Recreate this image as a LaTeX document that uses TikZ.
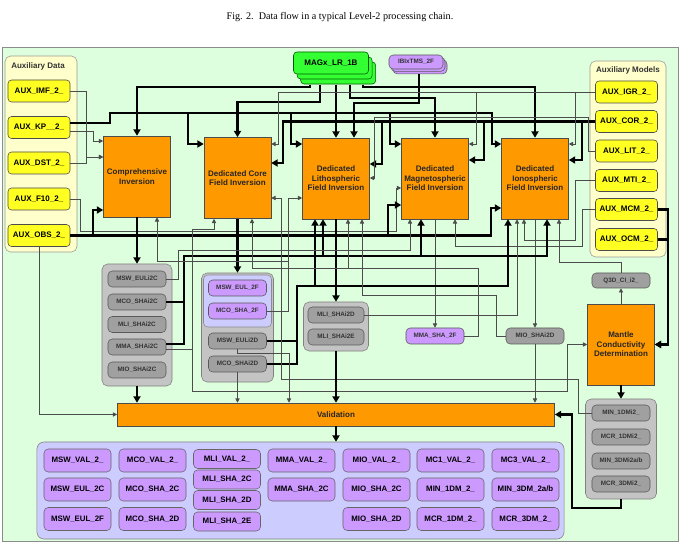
\documentclass[tikz,border=0pt]{standalone}
\usepackage{fontspec}
\setsansfont{Liberation Sans}
\newfontfamily\capfont{Liberation Serif}
\usetikzlibrary{arrows.meta,shadows}
\definecolor{bggreen}{HTML}{DDFFDD}
\definecolor{invorange}{HTML}{FF9900}
\definecolor{auxyellow}{HTML}{FFFF22}
\definecolor{auxpanel}{HTML}{FFFFCC}
\definecolor{prodpurple}{HTML}{CC99FF}
\definecolor{outpanel}{HTML}{CCCCFF}
\definecolor{grpgray}{HTML}{C4C4C4}
\definecolor{boxgray}{HTML}{A0A0A0}
\definecolor{lgreen}{HTML}{33FF33}
\begin{document}
\begin{tikzpicture}[x=0.025cm, y=-0.025cm,
    font=\sffamily\bfseries\fontsize{5.7}{6.8}\selectfont,
    inv/.style={draw=black!70, fill=invorange, text=black!85, minimum width=1.675cm,
                minimum height=2.025cm, align=center, inner sep=1pt},
    aux/.style={draw=black!70, fill=auxyellow, rounded corners=2.5pt, minimum width=1.55cm,
                minimum height=0.55cm, inner sep=1pt},
    auxgrp/.style={draw=black!40, fill=auxpanel, rounded corners=4pt, inner sep=0pt},
    grptitle/.style={text=black!80, inner sep=1pt},
    grp/.style={draw=black!50, fill=grpgray, rounded corners=4pt, inner sep=0pt},
    ibox/.style={draw=black!65, fill=boxgray, rounded corners=3pt, minimum width=1.45cm,
                 minimum height=0.4cm, inner sep=1pt, text=black!80,
                 font=\sffamily\bfseries\fontsize{4.5}{5}\selectfont},
    pbox/.style={ibox, fill=prodpurple},
    obox/.style={draw=black!60, fill=prodpurple, rounded corners=3pt, minimum width=1.675cm,
                 minimum height=0.575cm, inner sep=1pt, font=\sffamily\bfseries\fontsize{5.6}{6}\selectfont},
    flow/.style={draw=black!70, line width=0.6pt, -{Triangle[length=3pt,width=3pt]}},
    mainflow/.style={draw=black, line width=1.9pt, -{Triangle[length=4.5pt,width=5pt]}},
  ]
  \useasboundingbox (0,0) rectangle (680,544);
  % caption
  \node[font=\capfont\mdseries\fontsize{7.2}{8}\selectfont] (caption) at (340,17)
    {Fig. 2.\ \ Data flow in a typical Level-2 processing chain.};
  % frame and panels
  \node[draw=black!45, fill=bggreen, minimum width=16.9cm, minimum height=12.35cm, inner sep=0pt] (frame) at (340,294) {};
  \node[auxgrp, minimum width=1.8cm, minimum height=4.9cm] (auxdata) at (41,154) {};
  \node[grptitle] (auxdatat) at (38,66) {Auxiliary Data};
  \node[auxgrp, minimum width=1.9cm, minimum height=4.9cm] (auxmod) at (628,159) {};
  \node[grptitle] (auxmodt) at (628,70) {Auxiliary Models};
  % auxiliary data
  \node[aux] (imf) at (39,91) {AUX\_IMF\_2\_};
  \node[aux] (kp)  at (39,127.5) {AUX\_KP\_\_2\_};
  \node[aux] (dst) at (39,163) {AUX\_DST\_2\_};
  \node[aux] (f10) at (39,199) {AUX\_F10\_2\_};
  \node[aux] (obs) at (39,235.5) {AUX\_OBS\_2\_};
  % auxiliary models
  \node[aux] (igr) at (626.5,92) {AUX\_IGR\_2\_};
  \node[aux] (cor) at (626.5,121.5) {AUX\_COR\_2\_};
  \node[aux] (lit) at (626.5,151) {AUX\_LIT\_2\_};
  \node[aux] (mti) at (626.5,180.5) {AUX\_MTI\_2\_};
  \node[aux] (mcm) at (626.5,209.5) {AUX\_MCM\_2\_};
  \node[aux] (ocm) at (626.5,239.5) {AUX\_OCM\_2\_};
  % level-1b inputs
  \node[aux, fill=lgreen, draw=green!35!black, minimum width=1.875cm,
        double copy shadow={shadow xshift=0.09cm, shadow yshift=-0.125cm}] (magx) at (331,63) {MAGx\_LR\_1B};
  \node[pbox, minimum width=1.35cm, minimum height=0.35cm,
        double copy shadow={shadow xshift=0.05cm, shadow yshift=-0.06cm}] (ibi) at (416,62) {IBIxTMS\_2F};
  \coordinate (magxfoot) at ([yshift=-0.26cm]magx.south);
  \coordinate (ibifoot) at ([yshift=-0.12cm]ibi.south);
  % inversions
  \node[inv] (comp)    at (137,176.5) {Comprehensive\\Inversion};
  \node[inv] (core)    at (237.5,178) {Dedicated Core\\Field Inversion};
  \node[inv] (litho)   at (336,178.5) {Dedicated\\Lithospheric\\Field Inversion};
  \node[inv] (magneto) at (435,178.5) {Dedicated\\Magnetospheric\\Field Inversion};
  \node[inv] (iono)    at (535,178.5) {Dedicated\\Ionospheric\\Field Inversion};
  \node[inv] (mantle)  at (621,344.5) {Mantle\\Conductivity\\Determination};
  % intermediate products
  \node[grp, minimum width=1.75cm, minimum height=3.05cm] (g1) at (137,325) {};
  \node[ibox] (msweulic) at (137,279) {MSW\_EULi2C};
  \node[ibox] (mcoshaic) at (137,302) {MCO\_SHAi2C};
  \node[ibox] (mlishaic) at (137,324.5) {MLI\_SHAi2C};
  \node[ibox] (mmashaic) at (137,347) {MMA\_SHAi2C};
  \node[ibox] (mioshaic) at (137,370) {MIO\_SHAi2C};
  \node[grp, minimum width=1.8cm, minimum height=2.725cm] (g2) at (237.5,327.5) {};
  \node[draw=black!45, fill=outpanel, rounded corners=3pt, minimum width=1.7cm,
        minimum height=1.3cm, inner sep=0pt] (g2f) at (237.5,301) {};
  \node[pbox] (msweulf)  at (237.5,288) {MSW\_EUL\_2F};
  \node[pbox] (mcoshaf)  at (237.5,311) {MCO\_SHA\_2F};
  \node[ibox] (msweulid) at (237.5,341) {MSW\_EULi2D};
  \node[ibox] (mcoshaid) at (237.5,364) {MCO\_SHAi2D};
  \node[grp, minimum width=1.625cm, minimum height=1.225cm] (g3) at (336,326.5) {};
  \node[ibox, minimum width=1.4cm] (mlishad) at (336,315) {MLI\_SHAi2D};
  \node[ibox, minimum width=1.4cm] (mlishae) at (336,337) {MLI\_SHAi2E};
  \node[pbox] (mmashaf) at (435,336) {MMA\_SHA\_2F};
  \node[ibox] (mioshad) at (535,336) {MIO\_SHAi2D};
  \node[ibox, minimum height=0.375cm] (q3d) at (621,280.5) {Q3D\_CI\_i2\_};
  \node[grp, minimum width=1.775cm, minimum height=2.5cm] (g4) at (621,449) {};
  \node[ibox] (minid)   at (621,413) {MIN\_1DMi2\_};
  \node[ibox] (mcrid)   at (621,437) {MCR\_1DMi2\_};
  \node[ibox] (minidab) at (621,461) {MIN\_3DMi2a/b};
  \node[ibox] (mcridd)  at (621,484) {MCR\_3DMi2\_};
  % validation and final products
  \node[inv, minimum width=10.925cm, minimum height=0.575cm] (valid) at (336,414.5) {Validation};
  \node[draw=black!50, fill=outpanel, rounded corners=5pt, minimum width=13.175cm,
        minimum height=2.425cm, inner sep=0pt] (outp) at (300.5,490.5) {};
  \node[obox] (swval)  at (77.5,460.5) {MSW\_VAL\_2\_};
  \node[obox] (sweulc) at (77.5,489.5) {MSW\_EUL\_2C};
  \node[obox] (sweulf) at (77.5,519) {MSW\_EUL\_2F};
  \node[obox] (coval)  at (152.5,460.5) {MCO\_VAL\_2\_};
  \node[obox] (coshac) at (152.5,489.5) {MCO\_SHA\_2C};
  \node[obox] (coshad) at (152.5,519) {MCO\_SHA\_2D};
  \node[obox, minimum height=0.475cm] (lival)  at (227,459) {MLI\_VAL\_2\_};
  \node[obox, minimum height=0.475cm] (lishac) at (227,479.5) {MLI\_SHA\_2C};
  \node[obox, minimum height=0.475cm] (lishad) at (227,500) {MLI\_SHA\_2D};
  \node[obox, minimum height=0.475cm] (lishae) at (227,521.5) {MLI\_SHA\_2E};
  \node[obox] (maval)  at (301.5,460.5) {MMA\_VAL\_2\_};
  \node[obox] (mashac) at (301.5,489.5) {MMA\_SHA\_2C};
  \node[obox] (ioval)  at (376.5,460.5) {MIO\_VAL\_2\_};
  \node[obox] (ioshac) at (376.5,489.5) {MIO\_SHA\_2C};
  \node[obox] (ioshad) at (376.5,519) {MIO\_SHA\_2D};
  \node[obox] (cival)  at (450.5,460.5) {MC1\_VAL\_2\_};
  \node[obox] (inidm)  at (450.5,489.5) {MIN\_1DM\_2\_};
  \node[obox] (crdm)   at (450.5,519) {MCR\_1DM\_2\_};
  \node[obox] (cthval) at (525.5,460.5) {MC3\_VAL\_2\_};
  \node[obox] (inthdm) at (525.5,489.5) {MIN\_3DM\_2a/b};
  \node[obox] (crthdm) at (525.5,519) {MCR\_3DM\_2\_};
  \coordinate (cbus) at (184,256);
  \coordinate (dbus) at (297,286);
  % level-1b data into the inversions
  \draw[mainflow] (magxfoot -| 310,0) |- (137,87) -- (comp.north);
  \draw[mainflow] (magxfoot -| 320,0) |- (237.5,102) -- (core.north);
  \draw[mainflow] (magxfoot -| 336,0) -- (litho.north);
  \draw[mainflow] (magxfoot -| 350,0) |- (435,98) -- (magneto.north);
  \draw[mainflow] (magxfoot -| 363,0) |- (535,87) -- (iono.north);
  \draw[mainflow] (ibifoot -| 419,0) |- (354,103) -- (litho.north -| 354,0);
  % auxiliary data
  \draw[mainflow] (kp.east |- 0,123) -| (110,113) -| (188,144) -- (core.west |- 0,144);
  \draw[mainflow] (kp.east |- 0,123) -| (110,113) -| (291,144) -- (litho.west |- 0,144);
  \draw[mainflow] (kp.east |- 0,123) -| (110,113) -| (390,144) -- (magneto.west |- 0,144);
  \draw[mainflow] (kp.east |- 0,123) -| (110,113) -| (492,144) -- (iono.west |- 0,144);
  \draw[flow] (imf.east) -| (86,157) -- (comp.west |- 0,157);
  \draw[flow] (dst.east) -| (86,157) -- (comp.west |- 0,157);
  \draw[flow] (kp.east |- 0,131) -| (93,141) -- (comp.west |- 0,141);
  \draw[flow] (f10.east) -| (80,231) -| (396,188) -- (magneto.west |- 0,188);
  \draw[mainflow] (obs.east) -| (93,210) -- (comp.west |- 0,210);
  \draw[mainflow] (obs.east) -| (388,205) -- (magneto.west |- 0,205);
  \draw[mainflow] (obs.east) -| (491,208) -- (iono.west |- 0,208);
  \draw[flow] (obs.south) |- (valid.west);
  % auxiliary models
  \draw[mainflow] (cor.west) -| (283,163) -- (core.east |- 0,163);
  \draw[mainflow] (cor.west) -| (382,164) -- (litho.east |- 0,164);
  \draw[mainflow] (cor.west) -| (484,160) -- (magneto.east |- 0,160);
  \draw[mainflow] (cor.west) -| (582,160) -- (iono.east |- 0,160);
  \draw[flow] (igr.west) -| (278,144) -- (core.east |- 0,144);
  \draw[flow] (igr.west) -| (476,144) -- (magneto.east |- 0,144);
  \draw[flow] (igr.west) -| (575,144) -- (iono.east |- 0,144);
  \draw[flow] (lit.west) -| (588,117) -| (374,178) -- (litho.east |- 0,178);
  \draw[flow] (mti.west) -| (575,240) -| (iono.south -| 524,0);
  \draw[flow] (mcm.west) -| (582,246) -| (magneto.south -| 455,0);
  \draw[mainflow] (mcm.east) -| (668,344.5) -- (mantle.east);
  \draw[mainflow] (ocm.east) -| (668,344.5) -- (mantle.east);
  % inversion outputs
  \draw[mainflow] (comp.south) -- (g1.north);
  \draw[mainflow] (core.south) -- (g2.north);
  \draw[mainflow] (litho.south) -- (g3.north);
  \draw[flow] (magneto.south) -- (mmashaf.north);
  \draw[flow] (iono.south) -- (mioshad.north);
  \draw[mainflow] (mantle.south) -- (g4.north);
  \draw[flow] (mantle.north) -- (q3d.south);
  % a-priori models fed back
  \draw[mainflow, -] (mmashaic.east |- 0,344) -| (cbus);
  \draw[mainflow] (mcoshaic.east) -| (cbus) -| (litho.south -| 323,0);
  \draw[mainflow] (mcoshaic.east) -| (cbus) -| (magneto.south -| 421,0);
  \draw[mainflow] (mcoshaic.east) -| (cbus) -| (iono.south -| 547,0);
  \draw[mainflow] (msweulid.east) -| (dbus) -| (litho.south -| 315,0);
  \draw[mainflow] (mcoshaid.east) -| (dbus) -| (iono.south -| 508,0);
  \draw[flow] (mmashaic.east |- 0,349) -| (192,229) -| (core.south -| 214,0);
  \draw[flow] (mmashaic.east |- 0,349) -| (192,391) -| (567,344.5) -- (mantle.west);
  \draw[flow] (msweulic.east) -| (178,250) -| (magneto.south -| 410,0);
  \draw[flow] (mcoshaf.east) -| (288,198) -- (litho.west |- 0,198);
  \draw[flow] (mcoshaf.east) -| (288,261) -| (comp.south -| 157,0);
  \draw[flow] (mmashaf.east) -| (478,268) -| (core.south -| 252,0);
  \draw[flow] (mmashaf.east) -| (478,268) -| (litho.south -| 348,0);
  \draw[flow] (mioshad.west) -| (496,295) -| (litho.south -| 362,0);
  \draw[flow] (mlishad.east) -| (iono.south -| 517,0);
  \draw[flow] (minid.west) -| (578,379) -| (281,198) -- (core.east |- 0,198);
  \draw[flow] (q3d.north) |- (559,262) -- (iono.south -| 559,0);
  % validation
  \draw[mainflow] (g1.south) -- (valid.north -| g1.south);
  \draw[flow] (mcoshaid.south) -- (valid.north -| mcoshaid.south);
  \draw[flow] (msweulid.south) |- (289,353) -- (valid.north -| 289,0);
  \draw[mainflow] (g3.south) -- (valid.north -| g3.south);
  \draw[flow] (mioshad.south) -- (valid.north -| mioshad.south);
  \draw[mainflow] (g4.south) |- (572,508) |- (valid.east);
  \draw[mainflow] (valid.south) -- (valid.south |- outp.north);
\end{tikzpicture}
\end{document}
